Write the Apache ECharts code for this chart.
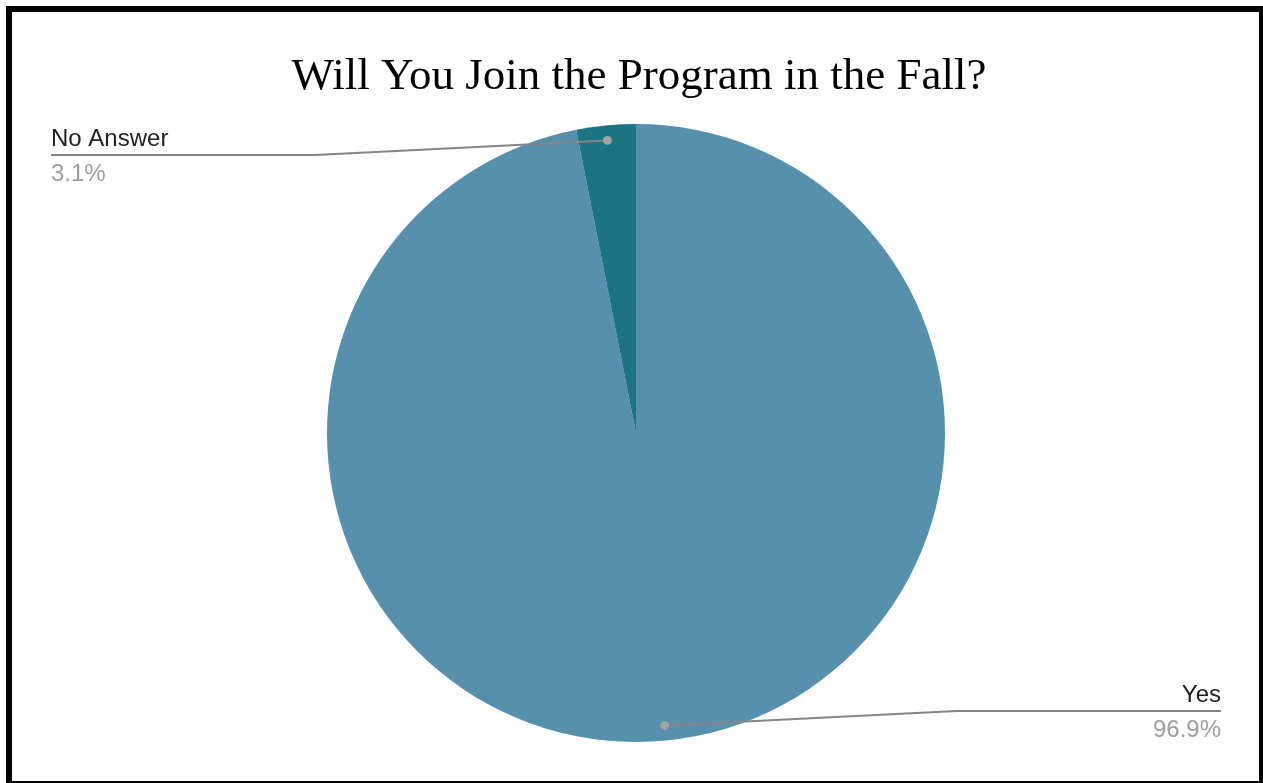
<!DOCTYPE html>
<html>
<head>
<meta charset="utf-8">
<title>Will You Join the Program in the Fall?</title>
<script src="https://cdn.jsdelivr.net/npm/echarts@6/dist/echarts.min.js"></script>
<style>
  html, body { margin: 0; padding: 0; background: #fff; }
  #chart { position: absolute; left: 0; top: 0; width: 1263px; height: 783px; }
  #frame {
    position: absolute; left: 6px; top: 6px; width: 1257px; height: 777px;
    box-sizing: border-box; border-style: solid; border-color: #000;
    border-width: 6px 4px 2px 6px; pointer-events: none;
  }
</style>
</head>
<body>
<div id="chart"></div>
<div id="frame"></div>
<script>
// Survey answers (share of respondents, %)
const chartTitle = 'Will You Join the Program in the Fall?';
const categories = ['Yes', 'No Answer'];
const shares = [96.9, 3.1];
const sliceColors = ['#5690ac', '#1c7482'];

// Pie geometry and label-callout layout
const pieCenter = [636, 433];
const pieRadius = 309;
const dotInset = 15;        // callout dot sits just inside the rim
const calloutRun = 292;     // horizontal run of the slanted callout segment
const calloutDrop = 14.5;   // vertical offset of the shelf from the dot, toward the centre
const labelEdges = [51, 1221];

const total = shares.reduce((a, b) => a + b, 0);

// Mid-angle (clockwise from 12 o'clock, radians) of each slice
function midAngle(i) {
  let before = 0;
  for (let k = 0; k < i; k++) before += shares[k];
  return (before + shares[i] / 2) / total * Math.PI * 2;
}

// Callout geometry for slice i: dot inside the rim, elbow, and shelf end at the label edge
function callout(i) {
  const a = midAngle(i);
  const r = pieRadius - dotInset;
  const dot = [pieCenter[0] + r * Math.sin(a), pieCenter[1] - r * Math.cos(a)];
  const side = Math.sin(a) >= 0 ? 1 : -1;
  const lineY = dot[1] + (dot[1] < pieCenter[1] ? calloutDrop : -calloutDrop);
  const elbow = [dot[0] + side * calloutRun, lineY];
  const end = [side > 0 ? labelEdges[1] : labelEdges[0], lineY];
  return { dot, elbow, end, side };
}

const chart = echarts.init(document.getElementById('chart'), null, { renderer: 'canvas' });

const calloutLines = categories.map((name, i) => {
  const c = callout(i);
  return {
    type: 'polyline',
    z: 100,
    silent: true,
    shape: { points: [c.dot, c.elbow, c.end] },
    style: { stroke: '#858585', lineWidth: 2, fill: null }
  };
});

const calloutDots = categories.map((name, i) => {
  const c = callout(i);
  return {
    type: 'circle',
    z: 101,
    silent: true,
    shape: { cx: c.dot[0], cy: c.dot[1], r: 4.5 },
    style: { fill: '#a3a3a3' }
  };
});

const option = {
  backgroundColor: 'transparent',
  animation: false,
  title: {
    text: chartTitle,
    left: 634,
    top: 50,
    textAlign: 'center',
    textStyle: {
      fontFamily: 'Liberation Serif',
      fontSize: 45,
      fontWeight: 'normal',
      color: '#000'
    }
  },
  series: [{
    type: 'pie',
    center: pieCenter,
    radius: pieRadius,
    startAngle: 90,
    clockwise: true,
    silent: true,
    emphasis: { disabled: true },
    data: categories.map((name, i) => ({
      name: name,
      value: shares[i],
      itemStyle: { color: sliceColors[i] }
    })),
    itemStyle: { borderWidth: 0 },
    label: {
      show: true,
      position: 'outside',
      formatter: p => '{n|' + p.name + '}\n{p|' + p.value.toFixed(1) + '%}',
      rich: {
        n: { fontFamily: 'Liberation Sans', fontSize: 24, color: '#222', lineHeight: 35 },
        p: { fontFamily: 'Liberation Sans', fontSize: 24, color: '#9e9e9e', lineHeight: 35 }
      }
    },
    labelLine: { show: false },
    labelLayout: function (params) {
      const c = callout(params.dataIndex);
      return {
        x: c.end[0],
        y: c.end[1] + 1.5,
        align: c.side > 0 ? 'right' : 'left',
        verticalAlign: 'middle'
      };
    }
  }],
  graphic: calloutLines.concat(calloutDots)
};

chart.setOption(option);
</script>
</body>
</html>
